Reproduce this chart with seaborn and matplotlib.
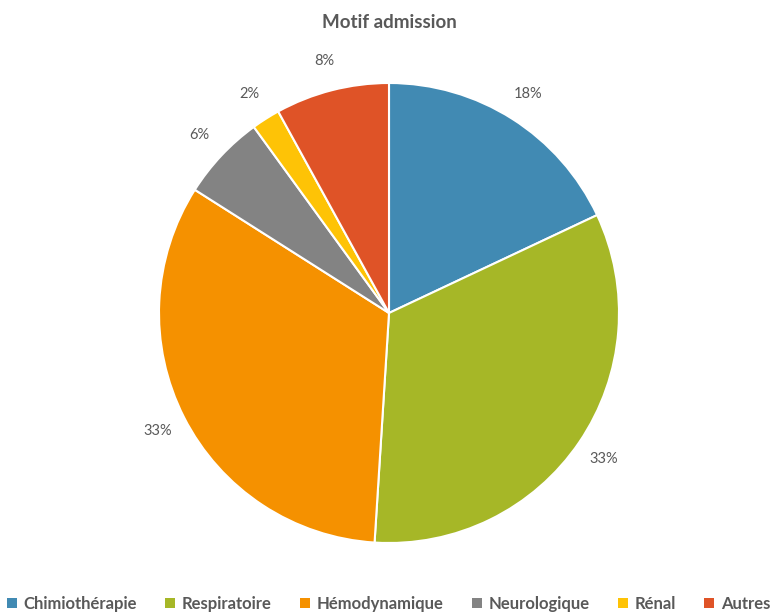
import seaborn as sns
import matplotlib.pyplot as plt
from matplotlib.patches import Patch

categories = ['Chimiothérapie', 'Respiratoire', 'Hémodynamique', 'Neurologique', 'Rénal', 'Autres']
values = [18, 33, 33, 6, 2, 8]
colors = ['#418AB3', '#A6B727', '#F59100', '#838383', '#FEC306', '#DF5327']

sns.set_theme(style="white")
plt.rcParams['font.family'] = ['Lato', 'DejaVu Sans']
palette = sns.color_palette(colors)
text_col = '#595959'

fig = plt.figure(figsize=(7.77, 6.14), dpi=100)
# pie centred at (389, 313) px, radius 230 px
ax = fig.add_axes([159 / 777, 71 / 614, 460 / 777, 460 / 614])
wedges, texts, autotexts = ax.pie(
    values, colors=palette, startangle=90, counterclock=False,
    autopct='%1.0f%%', pctdistance=1.13, radius=1,
    wedgeprops=dict(edgecolor='white', linewidth=1.5),
    textprops=dict(color=text_col, fontsize=10.5))
ax.set_xlim(-1, 1)
ax.set_ylim(-1, 1)
ax.set_aspect('equal')
ax.axis('off')

fig.text(389 / 777, 1 - 22 / 614, 'Motif admission', ha='center', va='center',
         fontsize=13.5, fontweight='bold', color=text_col)

handles = [Patch(facecolor=c, edgecolor='none') for c in palette]
fig.legend(handles, categories, loc='center', bbox_to_anchor=(0.5, 1 - 604 / 614),
           ncol=6, frameon=False, prop=dict(size=12, weight='bold'),
           handlelength=0.6, handleheight=0.6,
           handletextpad=0.4, columnspacing=1.7, labelcolor=text_col)

fig.savefig('out.png', dpi=100, facecolor='white')
